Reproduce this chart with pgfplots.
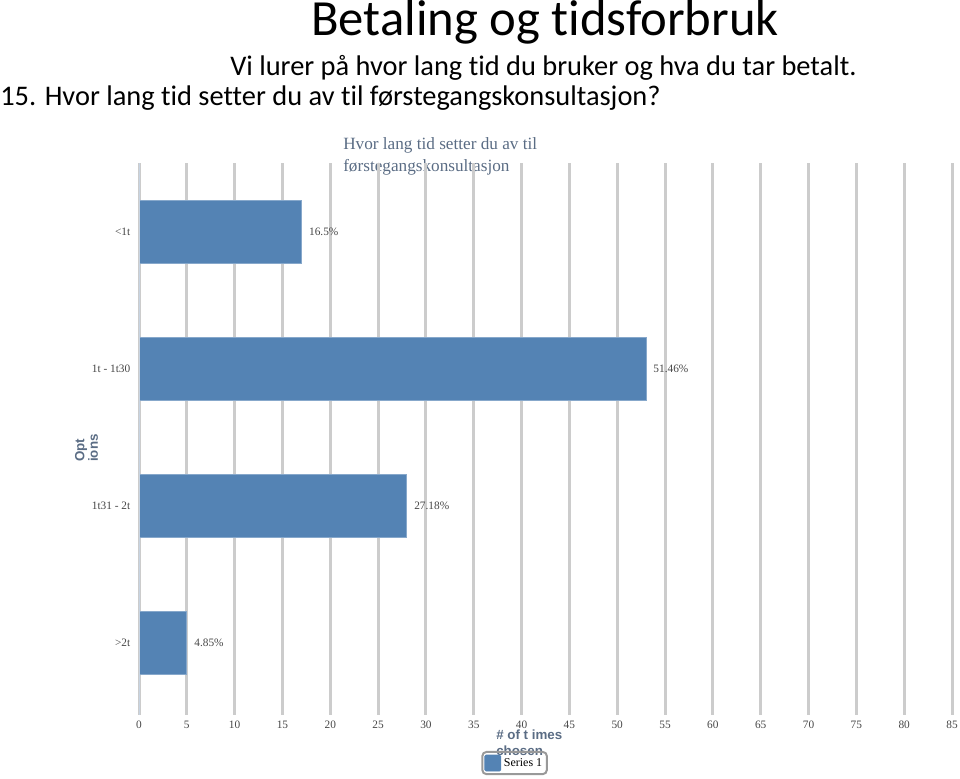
\documentclass[border=0pt]{standalone}
\usepackage{graphicx}
\usepackage{pgfplots}
\pgfplotsset{compat=1.18}
\usepackage{fontspec}
\setmainfont{Carlito}[Ligatures={NoCommon}]
\newfontfamily\serif{Liberation Serif}
\newfontfamily\bsans{Liberation Sans}
\definecolor{barblue}{RGB}{84,131,180}
\definecolor{gridgray}{RGB}{204,204,204}
\definecolor{slate}{RGB}{90,108,132}
\definecolor{axisblue}{RGB}{200,212,226}
\definecolor{txtgray}{RGB}{70,70,70}
\begin{document}
\begin{tikzpicture}
\useasboundingbox (0,0) rectangle (720pt,-583.5pt);
\begin{scope}[x=0.75pt,y=-0.75pt]
  \node[anchor=base west,inner sep=0,font=\fontsize{38}{44}\selectfont] at (311,36) {Betaling og tidsforbruk};
  \node[anchor=base west,inner sep=0,font=\fontsize{21.3}{25}\selectfont] at (230,75) {Vi lurer på hvor lang tid du bruker og hva du tar betalt.};
  \node[anchor=base west,inner sep=0,font=\fontsize{21.3}{25}\selectfont] at (0,105) {15. Hvor lang tid setter du av til førstegangskonsultasjon?};
  \node[anchor=north west,inner sep=0,align=left,text=slate,font=\serif\fontsize{12.9}{16.5}\selectfont] at (343,137) {Hvor lang tid setter du av til\\førstegangskonsultasjon};
  \node[anchor=north west,inner sep=0,align=left,text=slate,font=\bsans\bfseries\fontsize{10}{11.3}\selectfont] at (496,730) {\# of t imes\\chosen};
\end{scope}
\node[inner sep=0,text=slate,font=\bsans\bfseries\fontsize{10}{10}\selectfont,anchor=south] at (60.75pt,-346.5pt) {\rotatebox{90}{Opt}};
\node[inner sep=0,text=slate,font=\bsans\bfseries\fontsize{10}{10}\selectfont,anchor=south] at (69.75pt,-346.5pt) {\rotatebox{90}{ions}};
\begin{axis}[
    at={(104.25pt,-536.25pt)}, anchor=south west,
    scale only axis,
    width=609.75pt, height=414pt,
    xbar, bar width=0.46,
    xmin=0, xmax=85,
    ymin=-0.504, ymax=3.526,
    y dir=reverse,
    axis line style={draw=none},
    major tick length=0pt,
    xtick={0,5,...,85},
    ytick={0,1,2,3},
    yticklabels={{<1t},{1t - 1t30},{1t31 - 2t},{>2t}},
    xmajorgrids=true,
    major grid style={line width=2.25pt,draw=gridgray},
    /pgf/number format/assume math mode=true,
    tick label style={font=\serif\fontsize{8.5}{10}\selectfont,text=txtgray},
    yticklabel style={xshift=-3pt},
    xticklabel style={yshift=-1pt},
    point meta=explicit symbolic,
    nodes near coords,
    every node near coord/.append style={anchor=west,xshift=2pt,
        font=\serif\fontsize{8.5}{10}\selectfont,text=txtgray},
    legend style={at={(axis description cs:0.462,-0.087)},anchor=center,
        draw=gray!80,line width=1.5pt,rounded corners=3pt,fill=none,
        font=\serif\fontsize{9}{10}\selectfont,inner xsep=1.5pt,inner ysep=2pt},
    legend image code/.code={\fill[barblue,rounded corners=1pt] (0pt,-6pt) rectangle (12pt,6pt);},
]
\addplot[draw=barblue!70!white,line width=0.6pt,fill=barblue] coordinates {
    (17,0) [16.5\%]
    (53,1) [51.46\%]
    (28,2) [27.18\%]
    (5,3)  [4.85\%]
};
\addlegendentry{Series 1}
\draw[axisblue,line width=1.5pt] (axis cs:0,-0.504) -- (axis cs:0,3.526);
\end{axis}
\end{tikzpicture}
\end{document}
